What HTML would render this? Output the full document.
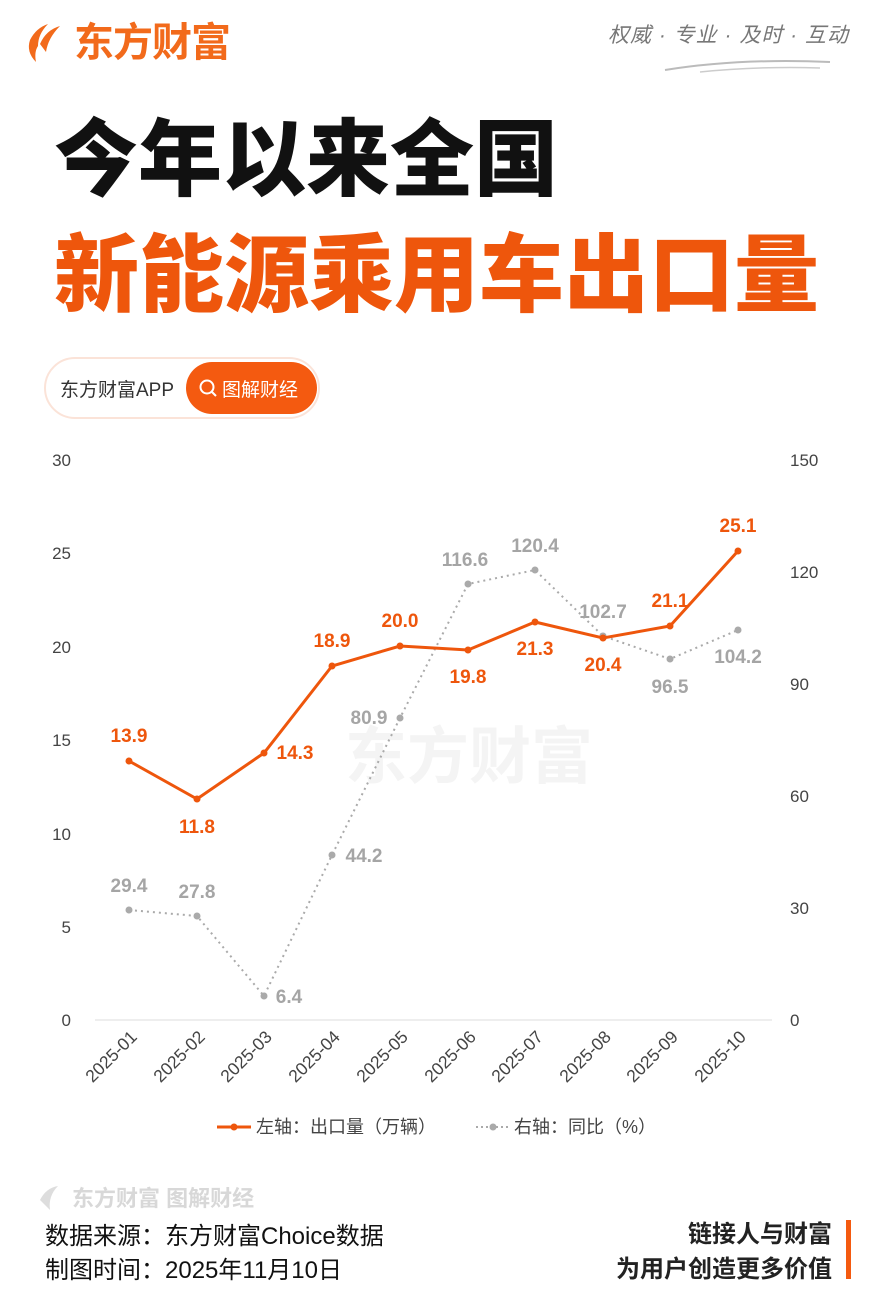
<!DOCTYPE html>
<html><head><meta charset="utf-8"><style>
html,body{margin:0;padding:0;background:#fff}
svg{display:block;font-family:"Liberation Sans","Noto Sans CJK SC",sans-serif}
</style></head><body>
<svg width="873" height="1301" viewBox="0 0 873 1301" xmlns="http://www.w3.org/2000/svg">
<path d="M30 40 Q36 28 48 24 Q38 34 38 46 Q34 52 36 62 Q26 52 30 40Z" fill="#f26a1b"/>
<path d="M40 44 Q46 30 60 26 Q48 38 46 52Z" fill="#f26a1b"/>
<text x="74" y="56" font-size="40" font-weight="700" fill="#f26a1b" letter-spacing="-1">东方财富</text>
<text x="608" y="42" font-size="21" fill="#777" font-style="italic" letter-spacing="1">权威 · 专业 · 及时 · 互动</text>
<path d="M665 70 Q740 58 830 62" stroke="#bbb" stroke-width="2" fill="none"/>
<path d="M700 72 Q760 66 820 68" stroke="#ccc" stroke-width="1.5" fill="none"/>
<text x="54" y="189" font-size="84" font-weight="900" fill="#111">今年以来全国</text>
<text x="54" y="305" font-size="85" font-weight="900" fill="#ee560c">新能源乘用车出口量</text>
<rect x="45" y="358" width="274" height="60" rx="30" fill="#fff" stroke="#fbe3d8" stroke-width="2"/>
<text x="60" y="396" font-size="19" fill="#333">东方财富APP</text>
<rect x="186" y="362" width="131" height="52" rx="26" fill="#f45a10"/>
<circle cx="207" cy="387" r="6.5" stroke="#fff" stroke-width="2" fill="none"/>
<line x1="212" y1="392" x2="216" y2="396" stroke="#fff" stroke-width="2"/>
<text x="222" y="396" font-size="19" fill="#fff">图解财经</text>
<text x="345" y="778" font-size="62" font-weight="700" fill="#f4f4f4">东方财富</text>
<line x1="95" y1="1020" x2="772" y2="1020" stroke="#ddd" stroke-width="1"/>
<g font-size="17" fill="#444" text-anchor="end">
<text x="71" y="466">30</text><text x="71" y="559">25</text><text x="71" y="653">20</text>
<text x="71" y="746">15</text><text x="71" y="840">10</text><text x="71" y="933">5</text><text x="71" y="1026">0</text>
</g>
<g font-size="17" fill="#444" text-anchor="start">
<text x="790" y="466">150</text><text x="790" y="578">120</text><text x="790" y="690">90</text>
<text x="790" y="802">60</text><text x="790" y="914">30</text><text x="790" y="1026">0</text>
</g>
<g font-size="17.5" fill="#444" text-anchor="end">
<text transform="translate(138,1038) rotate(-45)">2025-01</text>
<text transform="translate(206,1038) rotate(-45)">2025-02</text>
<text transform="translate(273,1038) rotate(-45)">2025-03</text>
<text transform="translate(341,1038) rotate(-45)">2025-04</text>
<text transform="translate(409,1038) rotate(-45)">2025-05</text>
<text transform="translate(477,1038) rotate(-45)">2025-06</text>
<text transform="translate(544,1038) rotate(-45)">2025-07</text>
<text transform="translate(612,1038) rotate(-45)">2025-08</text>
<text transform="translate(679,1038) rotate(-45)">2025-09</text>
<text transform="translate(747,1038) rotate(-45)">2025-10</text>
</g>
<polyline points="129,910 197,916 264,996 332,855 400,718 468,584 535,570 603,636 670,659 738,630" fill="none" stroke="#aaa" stroke-width="2" stroke-dasharray="2,4"/>
<g fill="#aaa">
<circle cx="129" cy="910" r="3.5"/><circle cx="197" cy="916" r="3.5"/><circle cx="264" cy="996" r="3.5"/><circle cx="332" cy="855" r="3.5"/><circle cx="400" cy="718" r="3.5"/><circle cx="468" cy="584" r="3.5"/><circle cx="535" cy="570" r="3.5"/><circle cx="603" cy="636" r="3.5"/><circle cx="670" cy="659" r="3.5"/><circle cx="738" cy="630" r="3.5"/>
</g>
<g font-size="19" font-weight="700" fill="#a5a5a5" text-anchor="middle">
<text x="129" y="892">29.4</text><text x="197" y="898">27.8</text><text x="289" y="1003">6.4</text><text x="364" y="862">44.2</text>
<text x="369" y="724">80.9</text><text x="465" y="566">116.6</text><text x="535" y="552">120.4</text><text x="603" y="618">102.7</text>
<text x="670" y="693">96.5</text><text x="738" y="663">104.2</text>
</g>
<polyline points="129,761 197,799 264,753 332,666 400,646 468,650 535,622 603,638 670,626 738,551" fill="none" stroke="#ee560c" stroke-width="3"/>
<g fill="#ee560c">
<circle cx="129" cy="761" r="3.5"/><circle cx="197" cy="799" r="3.5"/><circle cx="264" cy="753" r="3.5"/><circle cx="332" cy="666" r="3.5"/><circle cx="400" cy="646" r="3.5"/><circle cx="468" cy="650" r="3.5"/><circle cx="535" cy="622" r="3.5"/><circle cx="603" cy="638" r="3.5"/><circle cx="670" cy="626" r="3.5"/><circle cx="738" cy="551" r="3.5"/>
</g>
<g font-size="19" font-weight="700" fill="#ee560c" text-anchor="middle">
<text x="129" y="742">13.9</text><text x="197" y="833">11.8</text><text x="295" y="759">14.3</text><text x="332" y="647">18.9</text>
<text x="400" y="627">20.0</text><text x="468" y="683">19.8</text><text x="535" y="655">21.3</text><text x="603" y="671">20.4</text>
<text x="670" y="607">21.1</text><text x="738" y="532">25.1</text>
</g>
<line x1="217" y1="1127" x2="251" y2="1127" stroke="#ee560c" stroke-width="3"/>
<circle cx="234" cy="1127" r="3.5" fill="#ee560c"/>
<text x="256" y="1133" font-size="18" fill="#444">左轴：出口量（万辆）</text>
<line x1="476" y1="1127" x2="510" y2="1127" stroke="#aaa" stroke-width="2" stroke-dasharray="2,3"/>
<circle cx="493" cy="1127" r="3.5" fill="#aaa"/>
<text x="514" y="1133" font-size="18" fill="#444">右轴：同比（%）</text>
<path d="M40 1200 Q46 1188 58 1186 Q48 1196 50 1210Z" fill="#ddd"/>
<text x="72" y="1206" font-size="22" fill="#d8d8d8" font-weight="700">东方财富 图解财经</text>
<text x="45" y="1244" font-size="24" fill="#111">数据来源：东方财富Choice数据</text>
<text x="45" y="1278" font-size="24" fill="#111">制图时间：2025年11月10日</text>
<text x="832" y="1242" font-size="24" font-weight="700" fill="#222" text-anchor="end">链接人与财富</text>
<text x="832" y="1277" font-size="24" font-weight="700" fill="#222" text-anchor="end">为用户创造更多价值</text>
<rect x="846" y="1220" width="5" height="59" fill="#f45a10"/>
</svg>
</body></html>
